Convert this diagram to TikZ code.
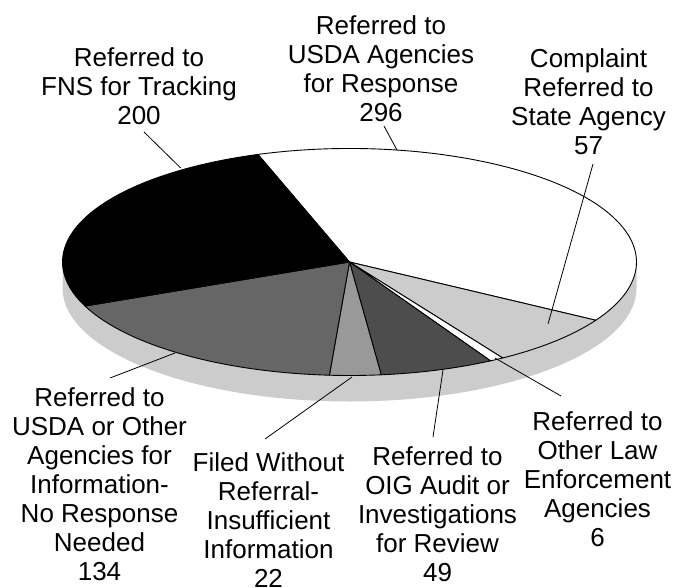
\documentclass[tikz,border=0pt]{standalone}
\usepackage{fontspec}
\setmainfont{Liberation Sans}
\definecolor{sidegray}{HTML}{CCCCCC}
\definecolor{lightslice}{HTML}{CCCCCC}
\definecolor{darkslice}{HTML}{4D4D4D}
\definecolor{midslice}{HTML}{999999}
\definecolor{grayslice}{HTML}{666666}
\begin{document}
\begin{tikzpicture}[x=1pt,y=-1pt,
  slice/.style={draw=black,line width=0.9pt,line join=round},
  lbl/.style={align=center,inner sep=0pt,anchor=north,font={\fontsize{26}{29}\selectfont}},
  leader/.style={draw=black,line width=0.8pt}]
\useasboundingbox (0,0) rectangle (690,588);
\coordinate (C) at (349.5,262);
% side of the pie
\fill[sidegray] (636.5,262) arc[start angle=0,end angle=180,x radius=287,y radius=113.5]
  -- ++(0,26) arc[start angle=180,end angle=0,x radius=287,y radius=113.5] -- cycle;
% slices
\filldraw[slice,fill=white] (C) -- ++(-108.6:287 and 113.5) arc[start angle=-108.6,end angle=30.876,x radius=287,y radius=113.5] -- cycle;
\filldraw[slice,fill=lightslice] (C) -- ++(30.876:287 and 113.5) arc[start angle=30.876,end angle=57.735,x radius=287,y radius=113.5] -- cycle;
\filldraw[slice,fill=white] (C) -- ++(57.735:287 and 113.5) arc[start angle=57.735,end angle=60.562,x radius=287,y radius=113.5] -- cycle;
\filldraw[slice,fill=darkslice] (C) -- ++(60.562:287 and 113.5) arc[start angle=60.562,end angle=83.651,x radius=287,y radius=113.5] -- cycle;
\filldraw[slice,fill=midslice] (C) -- ++(83.651:287 and 113.5) arc[start angle=83.651,end angle=94.017,x radius=287,y radius=113.5] -- cycle;
\filldraw[slice,fill=grayslice] (C) -- ++(94.017:287 and 113.5) arc[start angle=94.017,end angle=157.158,x radius=287,y radius=113.5] -- cycle;
\filldraw[slice,fill=black] (C) -- ++(157.158:287 and 113.5) arc[start angle=157.158,end angle=251.4,x radius=287,y radius=113.5] -- cycle;
% labels
\node[lbl] (t200) at (139,47) {Referred to\\FNS for Tracking\\200};
\node[lbl] (t296) at (381,15) {Referred to\\USDA Agencies\\for Response\\296};
\node[lbl] (t57) at (588.5,48) {Complaint\\Referred to\\State Agency\\57};
\node[lbl] (t134) at (99.5,387) {Referred to\\USDA or Other\\Agencies for\\Information-\\No Response\\Needed\\134};
\node[lbl] (t22) at (268.5,452) {Filed Without\\Referral-\\Insufficient\\Information\\22};
\node[lbl] (t49) at (437.5,446) {Referred to\\OIG Audit or\\Investigations\\for Review\\49};
\node[lbl] (t6) at (597.5,411) {Referred to\\Other Law\\Enforcement\\Agencies\\6};
% leader lines
\coordinate (a200) at (144,132);   \coordinate (b200) at (180.7,168);
\coordinate (a296) at (384,126);   \coordinate (b296) at (397,150);
\coordinate (a57) at (593,164);    \coordinate (b57) at (548,324);
\coordinate (a6) at (561,396);     \coordinate (b6) at (495,358);
\coordinate (a49) at (433,437);    \coordinate (b49) at (443,370);
\coordinate (a22) at (265,439);    \coordinate (b22) at (352,377);
\coordinate (a134) at (110,378);   \coordinate (b134) at (175,353);
\draw[leader] (a200) -- (b200);
\draw[leader] (a296) -- (b296);
\draw[leader] (a57) -- (b57);
\draw[leader] (a6) -- (b6);
\draw[leader] (a49) -- (b49);
\draw[leader] (a22) -- (b22);
\draw[leader] (a134) -- (b134);
\end{tikzpicture}
\end{document}
